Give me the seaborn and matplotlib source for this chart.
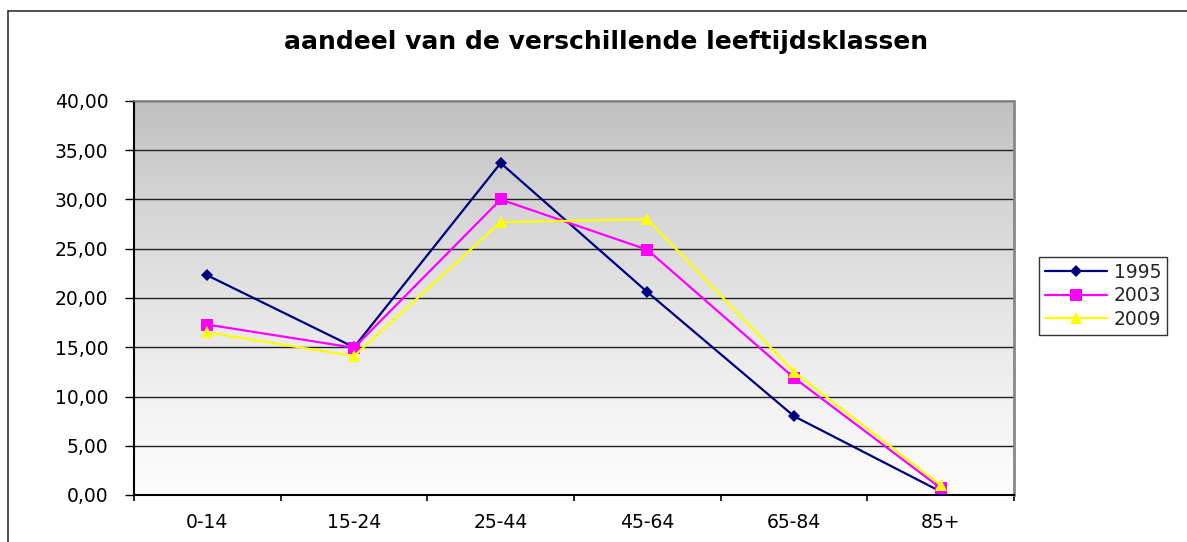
import numpy as np
import pandas as pd
import matplotlib
matplotlib.use("Agg")
import matplotlib.pyplot as plt
import seaborn as sns
from matplotlib.ticker import FuncFormatter, FixedLocator
from matplotlib.lines import Line2D

categories = ["0-14", "15-24", "25-44", "45-64", "65-84", "85+"]
years = ["1995", "2003", "2009"]
values_1995 = [22.3, 15.0, 33.7, 20.6, 8.0, 0.35]
values_2003 = [17.3, 14.95, 30.0, 24.9, 11.9, 0.7]
values_2009 = [16.5, 14.1, 27.7, 28.0, 12.5, 1.0]
title = "aandeel van de verschillende leeftijdsklassen"

df = pd.DataFrame({
    "klasse": categories * 3,
    "jaar": [y for y in years for _ in categories],
    "aandeel": values_1995 + values_2003 + values_2009,
})

sns.set_theme(style="white")
plt.rcParams["font.family"] = ["DejaVu Sans"]

fig = plt.figure(figsize=(11.87, 5.42), dpi=100)
ax = fig.add_axes([134/1187, 1 - 495/542, (1014-134)/1187, (495-101)/542])

# gradient background
grad = np.linspace(0, 1, 256).reshape(-1, 1)
top = np.array([0.75, 0.75, 0.75])
bot = np.array([0.995, 0.995, 0.995])
t = grad ** 0.8
img = top + (bot - top) * t[..., None]
img = img.reshape(256, 1, 3)
ax.imshow(img, extent=[0, 1, 0, 1], transform=ax.transAxes, aspect="auto", zorder=0, interpolation="bilinear")

palette = {"1995": "#000080", "2003": "#FF00FF", "2009": "#FFFF00"}
markers = {"1995": "D", "2003": "s", "2009": "^"}
sns.lineplot(data=df, x="klasse", y="aandeel", hue="jaar", style="jaar",
             palette=palette, markers=markers, dashes=False, sort=False,
             markersize=8, linewidth=1.6, markeredgewidth=0, ax=ax, zorder=3)
for ln in ax.lines:
    if ln.get_marker() == "D":
        ln.set_markersize(6)

ax.set_xlim(-0.5, 5.5)
ax.set_ylim(0, 40)
ax.set_yticks(np.arange(0, 40.1, 5))
ax.yaxis.set_major_formatter(FuncFormatter(lambda v, p: f"{v:.2f}".replace(".", ",")))
ax.grid(axis="y", color="#222222", linewidth=1.0, zorder=1)
ax.set_axisbelow(True)
ax.xaxis.set_minor_locator(FixedLocator(np.arange(-0.5, 5.6, 1)))
ax.tick_params(axis="x", which="major", length=0, pad=13, labelsize=13.5, colors="black")
ax.tick_params(axis="x", which="minor", length=4.5, width=1.2, color="black", direction="out", bottom=True)
ax.tick_params(axis="y", length=6.5, width=1.0, color="black", direction="out", left=True, labelsize=13.5, pad=12, colors="black")
ax.set_xlabel("")
ax.set_ylabel("")

for s in ["left", "bottom"]:
    ax.spines[s].set_color("black")
    ax.spines[s].set_linewidth(1.5)
ax.spines["top"].set_color("#888888")
ax.spines["top"].set_linewidth(1.2)
ax.spines["right"].set_color("#888888")
ax.spines["right"].set_linewidth(2.0)

fig.text(606/1187, 1 - 42/542, title, ha="center", va="center", fontsize=18, fontweight="bold", color="black")

handles, labels = ax.get_legend_handles_labels()
leg = ax.legend(handles, labels, loc="upper left", bbox_to_anchor=(1039/1187, 1 - 257/542),
                bbox_transform=fig.transFigure, frameon=True, fontsize=13.5, handlelength=3.3,
                handletextpad=0.4, borderpad=0.3, labelspacing=0.25, fancybox=False,
                borderaxespad=0)
leg.get_frame().set_edgecolor("black")
leg.get_frame().set_linewidth(1.0)

# outer chart frame (left and top)
fig.add_artist(Line2D([8/1187, 8/1187], [0, 1 - 11/542], transform=fig.transFigure, color="#333333", linewidth=1.2))
fig.add_artist(Line2D([8/1187, 1], [1 - 11/542, 1 - 11/542], transform=fig.transFigure, color="#333333", linewidth=1.2))

fig.savefig("out.png", dpi=100)
